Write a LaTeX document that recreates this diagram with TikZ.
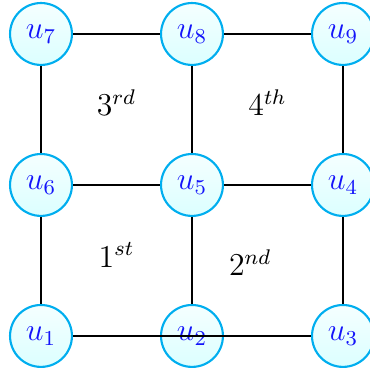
\documentclass[tikz,border=0pt]{standalone}
\usetikzlibrary{positioning}
\definecolor{rim}{RGB}{0,174,239}
\definecolor{vtx}{RGB}{20,20,250}
\tikzset{
  vertex/.style={circle,draw=rim,thick,top color=cyan!4,bottom color=cyan!14,
    minimum size=8.2mm,inner sep=0pt,text=vtx,font=\large},
  edge/.style={thick,draw=black},
  face/.style={font=\large},
}
\begin{document}
\begin{tikzpicture}
  \useasboundingbox (-0.543,-0.450) rectangle (4.358,4.450);
  % vertices, row by row
  \foreach \n/\x/\y in {1/0/0,2/2/0,3/4/0,6/0/2,5/2/2,4/4/2,7/0/4,8/2/4,9/4/4}
    \node[vertex] (u\n) at (\x,\y) {$u_{\n}$};
  \foreach \a/\b in {7/8,8/9,7/6,8/5,9/4,6/5,5/4,6/1,5/2,4/3}
    \draw[edge] (u\a) -- (u\b);
  \draw[edge] (u1) -- (u3);
  % faces
  \node[face] (f3) at (1.0,3.09) {$3^{rd}$};
  \node[face] (f4) at (3.0,3.09) {$4^{th}$};
  \node[face] (f1) at (1.0,1.07) {$1^{st}$};
  \node[face] (f2) at (2.77,0.97) {$2^{nd}$};
\end{tikzpicture}
\end{document}
